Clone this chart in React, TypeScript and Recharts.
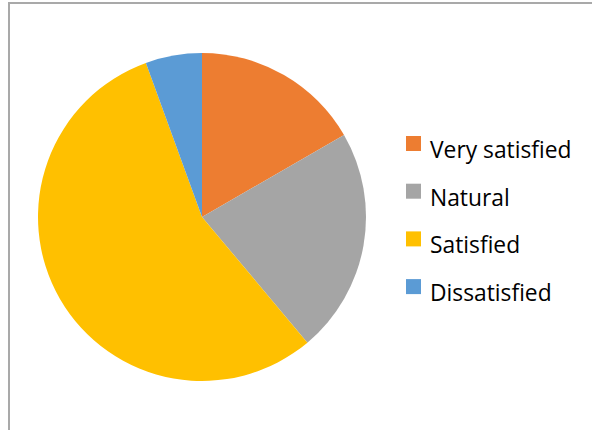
import React from "react";
import { PieChart, Pie, Cell, Legend } from "recharts";

const categories = ["Very satisfied", "Natural", "Satisfied", "Dissatisfied"];
const counts = [3, 4, 10, 1];
const colors = ["#ED7D31", "#A5A5A5", "#FFC000", "#5B9BD5"];

const data = categories.map((name, i) => ({ name, value: counts[i] }));

const renderLegend = (props: any) => {
  const payload = [...(props.payload || [])].sort(
    (a: any, b: any) => categories.indexOf(a.value) - categories.indexOf(b.value)
  );
  return (
    <svg width={592} height={430} style={{ position: "absolute", left: 0, top: 0 }}>
      {payload.map((entry: any, i: number) => (
        <g key={i}>
          <rect x={406} y={136 + i * 47.7} width={15} height={15} fill={entry.color} />
          <text
            x={430}
            y={158 + i * 47.7}
            fontFamily="'Open Sans', sans-serif"
            fontSize={22.8}
            fill="#000"
          >
            {entry.value}
          </text>
        </g>
      ))}
    </svg>
  );
};

export default function App() {
  return (
    <div style={{ position: "absolute", left: 0, top: 0, width: 592, height: 430, background: "#fff", overflow: "hidden" }}>
      <div style={{ position: "absolute", left: 8, top: 2, width: 2, height: 428, background: "#A9A9A9" }} />
      <div style={{ position: "absolute", left: 8, top: 2, width: 584, height: 2, background: "#A9A9A9" }} />
      <div style={{ position: "absolute", left: 0, top: 0 }}>
        <PieChart width={592} height={430} margin={{ top: 0, right: 0, bottom: 0, left: 0 }}>
          <Pie
            data={data}
            dataKey="value"
            nameKey="name"
            cx={202}
            cy={217}
            outerRadius={164}
            startAngle={90}
            endAngle={-270}
            stroke="none"
            isAnimationActive={false}
          >
            {data.map((d, i) => (
              <Cell key={d.name} fill={colors[i]} />
            ))}
          </Pie>
          <Legend
            content={renderLegend}
            wrapperStyle={{ position: "absolute", left: 0, top: 0, width: 592, height: 430, pointerEvents: "none" }}
          />
        </PieChart>
      </div>
    </div>
  );
}
